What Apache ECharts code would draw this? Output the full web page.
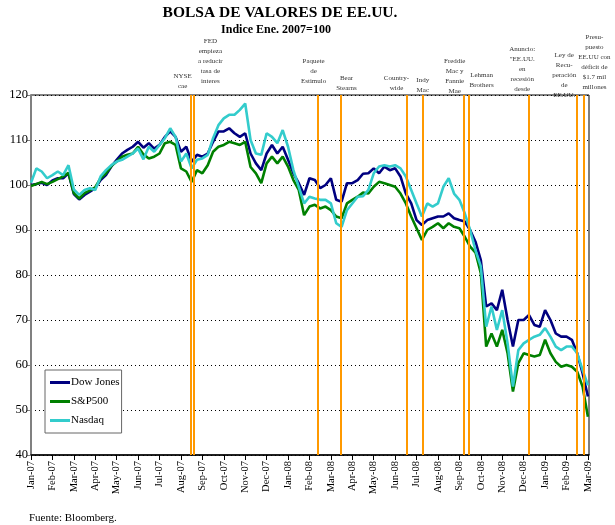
<!DOCTYPE html>
<html>
<head>
<meta charset="utf-8">
<script src="https://cdn.jsdelivr.net/npm/echarts@6/dist/echarts.min.js"></script>
<style>
  html, body { margin: 0; padding: 0; background: #fff; }
  #chart { width: 615px; height: 525px; }
</style>
</head>
<body>
<div id="chart"></div>
<script>
// etiquetas mensuales del eje x (indice 0 = Jan-07)
const months = ['Jan-07', 'Feb-07', 'Mar-07', 'Apr-07', 'May-07', 'Jun-07', 'Jul-07', 'Aug-07', 'Sep-07',
    'Oct-07', 'Nov-07', 'Dec-07', 'Jan-08', 'Feb-08', 'Mar-08', 'Apr-08', 'May-08', 'Jun-08', 'Jul-08',
    'Aug-08', 'Sep-08', 'Oct-08', 'Nov-08', 'Dec-08', 'Jan-09', 'Feb-09', 'Mar-09']

// valores semanales (4 por mes), indice Ene. 2007 = 100
const dowJones = [
    100, 100.2, 100.5, 100, 101, 101.5, 101.5, 102.6, 98, 96.8, 97.8, 98.5, 99.3, 101.1, 102.2, 104.1,
    105.6, 107, 107.8, 108.5, 109.6, 108.3, 109.3, 108.1, 108.9, 110.7, 111.9, 110.7, 107.4, 108.5, 105.2, 106.7,
    106.3, 107, 109.6, 111.9, 111.9, 112.6, 111.5, 110.7, 111.5, 107, 104.8, 103.3, 107, 108.9, 107, 108.5,
    105.6, 102.6, 100.4, 97.8, 101.5, 101.1, 99.3, 100, 101.5, 96.7, 96.3, 100.4, 100.4, 101.1, 102.5, 102.6,
    103.7, 102.6, 104.1, 103.3, 103.7, 101.9, 98.1, 95.9, 92.2, 91.1, 92.2, 92.6, 93, 93, 93.7, 92.6,
    92.2, 91.9, 90, 87.4, 83.3, 73, 73.7, 72.2, 76.7, 70, 64.1, 70, 70, 71.1, 68.9, 68.5,
    72.2, 70, 67, 66.3, 66.3, 65.6, 62.6, 58.2, 53
]
const sp500 = [
    99.8, 100.2, 100.7, 100.2, 100.7, 101.3, 101.9, 102.7, 98.2, 97, 98.2, 98.8, 99.5, 101.5, 102.6, 104.2,
    105.2, 106.3, 106.7, 107, 108.5, 106.8, 105.9, 106.3, 107, 109.3, 109.6, 108.9, 103.7, 103, 100.7, 103.3,
    102.6, 104.4, 107.4, 108.5, 108.9, 109.6, 109.3, 108.9, 109.6, 104, 102.6, 100.4, 104.8, 106.3, 104.8, 106.3,
    104.1, 101.1, 98.9, 93.3, 95.2, 95.6, 94.8, 95.2, 94.4, 93, 92.6, 95.9, 96.7, 97.4, 98.3, 98.1,
    99.6, 100.7, 100.4, 100, 99.6, 98.1, 95.9, 93, 90.4, 87.8, 90, 90.7, 91.5, 90.4, 91.5, 90.7,
    90.4, 88.5, 86.3, 85, 80.4, 64.1, 67, 64.1, 67.8, 62.6, 54.1, 60.4, 62.6, 62.2, 61.9, 62.2,
    65.6, 62.6, 60.7, 59.6, 60, 59.6, 58.5, 55.2, 48.5
]
const nasdaq = [
    100.5, 103.7, 103, 101.5, 102.2, 103, 102.2, 104.4, 99, 97.8, 98.9, 99.3, 98.9, 101.9, 103.3, 104.4,
    105.2, 105.6, 106.3, 107, 108.1, 105.7, 108.5, 107.4, 108.9, 110.4, 112.6, 110.7, 105.2, 107, 103.7, 105.6,
    105.9, 106.7, 110.4, 113.3, 114.8, 115.6, 115.6, 116.7, 118.1, 110, 107, 106.7, 111.5, 110.7, 109.3, 112.2,
    108.5, 103.3, 99.6, 95.9, 97.4, 97, 96.7, 96.7, 95.9, 91.5, 90.7, 94.4, 95.9, 97.4, 97.5, 98.9,
    102.6, 104.1, 104.4, 104.1, 104.4, 103.7, 101.9, 98.9, 95.9, 93, 95.9, 95.2, 95.9, 99.6, 101.5, 98.1,
    96.7, 93.7, 90, 85.5, 81.9, 68.5, 73, 67.8, 72.2, 64.8, 55.2, 63.3, 64.8, 65.6, 66.3, 66.7,
    68.2, 66.3, 64.1, 63.3, 64.1, 64.1, 62.6, 58.9, 55.5
]

// eventos (lineas naranjas)
const eventDates = ['2007-08-15', '2007-08-19', '2008-02-12', '2008-03-15', '2008-06-17', '2008-07-10',
    '2008-09-07', '2008-09-14', '2008-12-09', '2009-02-15', '2009-02-23']
const eventLabels = [
    'NYSE\ncae',
    'FED\nempieza\na reducir\ntasa de\ninteres',
    'Paquete\nde\nEstimulo',
    'Bear\nStearns',
    'Country-\nwide',
    'Indy\nMac',
    'Freddie\nMac y\nFannie\nMae',
    'Lehman\nBrothers',
    'Anuncio:\n"EE.UU.\nen\nrecesión\ndesde',
    'Ley de\nRecu-\nperación\nde\nEE.UU.',
    'Presu-\npuesto\nEE.UU con\ndéficit de\n$1.7 mil\nmillones'
]
// desplazamiento horizontal / vertical de cada etiqueta (px)
const eventShift = [-8, 17, -4, 6, -10, 0, -9, 13, -7, -13, 11]
const eventLift = [4, 9, 9, 2, 2, 0, -1, 5, 1, -5, 3]

const serif = '"Liberation Serif", "DejaVu Serif", serif'

function toMonth(s) {
    const [y, m, d] = s.split('-').map(Number)
    const days = new Date(y, m, 0).getDate()
    return (y - 2007) * 12 + (m - 1) + (d - 1) / days
}

function toPoints(values) {
    return values.map((v, i) => [i / 4, v])
}

const chart = echarts.init(document.getElementById('chart'))

const lineSeries = (name, color, values) => ({
    name,
    type: 'line',
    symbol: 'none',
    smooth: false,
    lineStyle: { color, width: 2.6 },
    itemStyle: { color },
    data: toPoints(values)
})

const nasdaqSeries = lineSeries('Nasdaq', '#33CCCC', nasdaq)
nasdaqSeries.markLine = {
    silent: true,
    symbol: 'none',
    z: 5,
    lineStyle: { color: '#FF9900', width: 2, type: 'solid' },
    label: {
        position: 'end',
        color: '#333',
        fontFamily: serif,
        fontSize: 7,
        lineHeight: 10,
        align: 'center'
    },
    data: eventDates.map((d, k) => {
        const s = eventShift[k]
        return {
            xAxis: toMonth(d),
            label: {
                formatter: eventLabels[k],
                distance: eventLift[k],
                padding: s >= 0 ? [0, 0, 0, 2 * s] : [0, -2 * s, 0, 0]
            }
        }
    })
}

chart.setOption({
    animation: false,
    textStyle: { fontFamily: serif },
    graphic: [
        {
            type: 'text', x: 280, y: 13,
            style: { text: 'BOLSA DE VALORES DE EE.UU.', font: 'bold 15.5px ' + serif, fill: '#000', align: 'center', verticalAlign: 'middle' }
        },
        {
            type: 'text', x: 276, y: 30,
            style: { text: 'Indice Ene. 2007=100', font: 'bold 12px ' + serif, fill: '#000', align: 'center', verticalAlign: 'middle' }
        },
        {
            type: 'text', x: 29, y: 518,
            style: { text: 'Fuente: Bloomberg.', font: '11px ' + serif, fill: '#000', verticalAlign: 'middle' }
        }
    ],
    legend: {
        data: ['Dow Jones', 'S&P500', 'Nasdaq'],
        orient: 'vertical',
        left: 45,
        top: 370,
        icon: 'rect',
        itemWidth: 20,
        itemHeight: 3,
        itemGap: 8,
        padding: [7, 2, 7, 5],
        backgroundColor: '#fff',
        borderColor: '#666',
        borderWidth: 1,
        borderRadius: 0,
        textStyle: { fontFamily: serif, fontSize: 11, color: '#000', padding: [0, 0, 0, -4] }
    },
    grid: {
        left: 31,
        right: 26,
        top: 95,
        bottom: 70,
        show: true,
        borderColor: '#000',
        borderWidth: 1
    },
    xAxis: {
        type: 'value',
        min: 0,
        max: 26.05,
        interval: 1,
        axisLine: { lineStyle: { color: '#000', width: 1.5 } },
        axisTick: { show: true, length: 5, lineStyle: { color: '#000' } },
        splitLine: { show: false },
        axisLabel: {
            rotate: 90,
            margin: 6,
            fontFamily: serif,
            fontSize: 10.5,
            color: '#000',
            showMaxLabel: false,
            formatter: v => (Number.isInteger(v) ? months[v] || '' : '')
        }
    },
    yAxis: {
        type: 'value',
        min: 40,
        max: 120,
        interval: 10,
        axisLine: { show: true, lineStyle: { color: '#808080', width: 2 } },
        axisTick: { show: true, length: 4, lineStyle: { color: '#808080' } },
        splitLine: { show: true, lineStyle: { color: '#000', type: [1, 3], width: 1 } },
        axisLabel: { fontFamily: serif, fontSize: 12.5, color: '#000', margin: 3 }
    },
    series: [
        lineSeries('Dow Jones', '#000080', dowJones),
        lineSeries('S&P500', '#008000', sp500),
        nasdaqSeries
    ]
})
</script>
</body>
</html>
